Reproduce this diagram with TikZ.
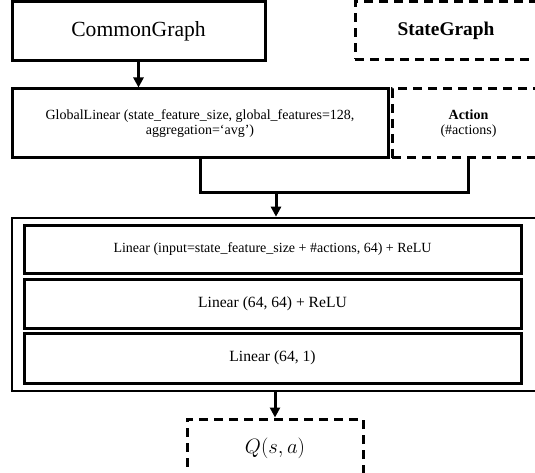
\documentclass[tikz,border=0pt]{standalone}
\usepackage{fontspec}
\setmainfont{Liberation Serif}
\usetikzlibrary{arrows.meta}
\begin{document}
\begin{tikzpicture}[x=1pt,y=-1pt,
  solidbox/.style={draw=black,line width=3pt,minimum width=#1,inner sep=0pt,align=center},
  dashbox/.style={draw=black,line width=3pt,dash pattern=on 9pt off 6pt,minimum width=#1,inner sep=0pt,align=center},
  wire/.style={line width=3pt},
  arr/.style={line width=3pt,-{Triangle[length=10pt,width=10pt]}},
  bigfont/.style={font=\fontsize{21.6}{24}\selectfont},
  midfont/.style={font=\fontsize{15.6}{18}\selectfont},
  smallfont/.style={font=\fontsize{14}{15.5}\selectfont}]
\clip (0,0) rectangle (535,473);
\useasboundingbox (0,0) rectangle (535,473);

\node[solidbox=253pt,minimum height=59pt,bigfont] (cg) at (138.5,31) {CommonGraph};
\node[dashbox=190pt,minimum height=58pt,font=\fontsize{19.4}{22}\selectfont\bfseries] (sg) at (450,30.5) {\hspace*{-8pt}StateGraph};

\node[solidbox=376pt,minimum height=69pt,smallfont] (gl) at (200,123.5)
  {GlobalLinear (state\_feature\_size, global\_features=128,\\ aggregation=‘avg’)};
\node[dashbox=153pt,minimum height=69pt,smallfont] (act) at (468.5,123.5)
  {\textbf{Action}\\(\#actions)};

\node[draw=black,line width=2.6pt,minimum width=533pt,minimum height=173pt,inner sep=0pt] (big) at (278.5,304.5) {};
\node[solidbox=497pt,minimum height=48pt,smallfont] (l1) at (272.5,249)
  {Linear (input=state\_feature\_size + \#actions, 64) + ReLU};
\node[solidbox=497pt,minimum height=49pt,midfont] (l2) at (272.5,303.5) {Linear (64, 64) + ReLU};
\node[solidbox=497pt,minimum height=50pt,midfont] (l3) at (272.5,358) {Linear (64, 1)};

\node[dashbox=176pt,minimum height=59pt,font=\fontsize{20}{22}\selectfont] (q) at (275,448.5) {$Q(s,a)$};

\coordinate (j) at (276,193);
\draw[arr] (cg.south) -- (cg.south |- gl.north);
\draw[wire] (gl.south) -- (gl.south |- j) -- (act.south |- j) -- (act.south);
\draw[arr] (j) -- (j |- big.north);
\draw[arr] (big.south -| q.north) -- (q.north);
\end{tikzpicture}
\end{document}
